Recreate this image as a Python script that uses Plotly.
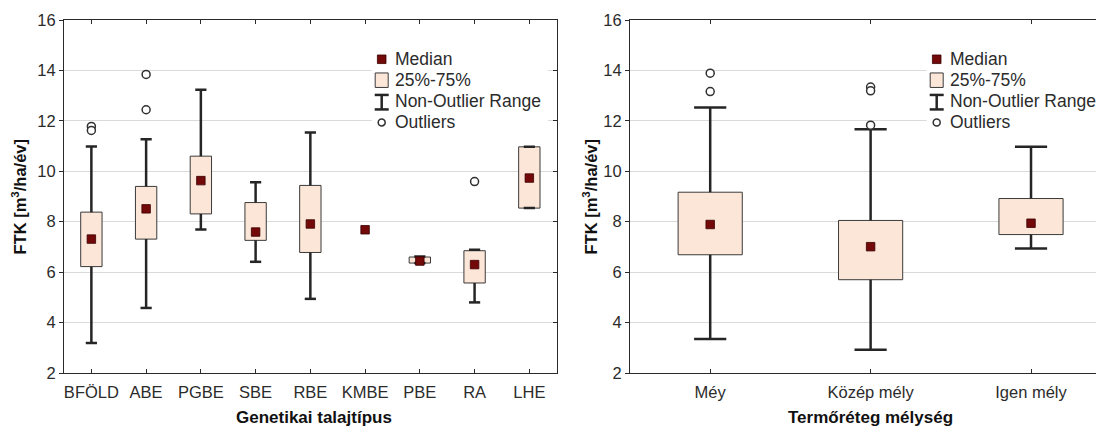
import plotly.graph_objects as go

# ---------------- data ----------------
left_categories = ["BFÖLD", "ABE", "PGBE", "SBE", "RBE", "KMBE", "PBE", "RA", "LHE"]
left_median = [7.31, 8.51, 9.63, 7.59, 7.91, 7.68, 6.44, 6.30, 9.73]
left_q1 = [6.22, 7.31, 8.31, 7.26, 6.78, None, 6.36, 5.57, 8.54]
left_q3 = [8.38, 9.40, 10.60, 8.76, 9.44, None, 6.60, 6.85, 10.97]
left_low = [3.19, 4.58, 7.69, 6.41, 4.94, None, 6.36, 4.80, 8.54]
left_high = [10.98, 11.27, 13.23, 9.57, 11.54, None, 6.62, 6.89, 10.97]
left_outlier_cat = ["BFÖLD", "BFÖLD", "ABE", "ABE", "RA"]
left_outlier_val = [11.78, 11.62, 13.84, 12.44, 9.59]

right_categories = ["Méy", "Közép mély", "Igen mély"]
right_median = [7.89, 7.01, 7.94]
right_q1 = [6.69, 5.70, 7.49]
right_q3 = [9.17, 8.05, 8.92]
right_low = [3.35, 2.92, 6.94]
right_high = [12.53, 11.67, 10.97]
right_outlier_cat = ["Méy", "Méy", "Közép mély", "Közép mély", "Közép mély"]
right_outlier_val = [13.89, 13.16, 13.34, 13.19, 11.83]

y_ticks = [2, 4, 6, 8, 10, 12, 14, 16]
legend_labels = ["Median", "25%-75%", "Non-Outlier Range", "Outliers"]

# ---------------- styles ----------------
BOX_FILL = "#fce6d8"
BOX_LINE = "#3a3a3a"
MED_COLOR = "#730909"
WHISK = "#252525"
AX = "#2a2a2a"
GRID = "#dadada"
TXT = "#2b2b2b"
FONT = "Liberation Sans, Arial, sans-serif"

# the page body has an 8px margin: work in page pixels, shift into figure pixels
OFF = 8
W, H = 1104 - OFF, 428 - OFF
PLOT_L, PLOT_R, PLOT_T, PLOT_B = 64, 1104, 20, 373.3   # page pixels
ML, MT = PLOT_L - OFF, PLOT_T - OFF
MR = (1104 - OFF) - (PLOT_R - OFF)
MB = H - (PLOT_B - OFF)
PW, PH = PLOT_R - PLOT_L, PLOT_B - PLOT_T


def px(x):
    return (x - PLOT_L) / PW


def py(y):
    return (PLOT_B - y) / PH


fig = go.Figure()


def add_panel(cats, med, q1, q3, lo, hi, ocat, oval, xa, ya, bw, capsize):
    # boxes
    fig.add_trace(go.Bar(
        x=cats,
        y=[(b - a) if (a is not None and b is not None) else None for a, b in zip(q1, q3)],
        base=q1, width=bw, xaxis=xa, yaxis=ya,
        marker=dict(color=BOX_FILL, line=dict(color=BOX_LINE, width=1)),
        showlegend=False, hoverinfo="skip"))
    # whisker stems
    sx, sy = [], []
    for c, a, b, l, h in zip(cats, q1, q3, lo, hi):
        if a is None:
            continue
        sx += [c, c, None, c, c, None]
        sy += [l, a, None, b, h, None]
    fig.add_trace(go.Scatter(x=sx, y=sy, mode="lines", xaxis=xa, yaxis=ya,
                             line=dict(color=WHISK, width=2.5),
                             showlegend=False, hoverinfo="skip"))
    # caps
    cx, cy = [], []
    for c, l, h in zip(cats, lo, hi):
        if l is None:
            continue
        cx += [c, c]
        cy += [l, h]
    fig.add_trace(go.Scatter(x=cx, y=cy, mode="markers", xaxis=xa, yaxis=ya,
                             marker=dict(symbol="line-ew", size=capsize,
                                         line=dict(color=WHISK, width=2.5)),
                             showlegend=False, hoverinfo="skip"))
    # medians
    fig.add_trace(go.Scatter(x=cats, y=med, mode="markers", xaxis=xa, yaxis=ya,
                             marker=dict(symbol="square", size=8.5, color=MED_COLOR,
                                         line=dict(color="#3a0000", width=0.8)),
                             showlegend=False, hoverinfo="skip"))
    # outliers
    fig.add_trace(go.Scatter(x=ocat, y=oval, mode="markers", xaxis=xa, yaxis=ya,
                             marker=dict(symbol="circle", size=8, color="white",
                                         line=dict(color="#303030", width=1.5)),
                             showlegend=False, hoverinfo="skip"))


add_panel(left_categories, left_median, left_q1, left_q3, left_low, left_high,
          left_outlier_cat, left_outlier_val, "x", "y", 0.39, 8)
add_panel(right_categories, right_median, right_q1, right_q3, right_low, right_high,
          right_outlier_cat, right_outlier_val, "x2", "y2", 0.40, 23)

# invisible trace for right-side inner ticks of left panel
fig.add_trace(go.Scatter(x=[left_categories[0]], y=[None], xaxis="x", yaxis="y3",
                         mode="markers", showlegend=False, hoverinfo="skip"))

xd1 = [0, px(556.7)]
xd2 = [px(630), 1.0]

xcommon = dict(type="category", showline=True, linecolor=AX, linewidth=1.2,
               ticks="inside", ticklen=4, tickcolor=AX, tickwidth=1,
               showgrid=False, zeroline=False,
               tickfont=dict(family=FONT, size=16.5, color=TXT),
               ticklabelstandoff=4)
ycommon = dict(range=[2, 16], tickvals=y_ticks, showline=True, linecolor=AX,
               linewidth=1.2, ticks="outside", ticklen=4, tickcolor=AX,
               showgrid=True, gridcolor=GRID, gridwidth=1, zeroline=False,
               tickfont=dict(family=FONT, size=16.5, color=TXT))

fig.update_layout(
    width=W, height=H, margin=dict(l=ML, r=MR, t=MT, b=MB, pad=0),
    paper_bgcolor="white", plot_bgcolor="white", showlegend=False,
    barmode="overlay",
    xaxis=dict(domain=xd1, range=[-0.5, 8.5], mirror="ticks", anchor="y",
               categoryorder="array", categoryarray=left_categories, **xcommon),
    yaxis=dict(domain=[0, 1], anchor="x", mirror=True, **ycommon),
    yaxis3=dict(range=[2, 16], tickvals=y_ticks, overlaying="y", side="right",
                anchor="x", showticklabels=False, ticks="inside", ticklen=4,
                tickcolor=AX, showgrid=False, showline=False, zeroline=False),
    xaxis2=dict(domain=xd2, range=[-0.5, 2.455], mirror="ticks", anchor="y2",
                categoryorder="array", categoryarray=right_categories, **xcommon),
    yaxis2=dict(domain=[0, 1], anchor="x2", mirror=False, **ycommon),
)

shapes = []
annotations = []

# legends (drawn manually to reproduce the I-beam symbol)
for cx0, bg_right in [(381.7, 548), (936.7, 1104)]:
    shapes.append(dict(type="rect", xref="paper", yref="paper",
                       x0=px(cx0 - 10), x1=px(bg_right), y0=py(132), y1=py(46),
                       fillcolor="white", line=dict(width=0), layer="above"))
    shapes.append(dict(type="rect", xref="paper", yref="paper",
                       x0=px(cx0 - 4.3), x1=px(cx0 + 4.3), y0=py(63.6), y1=py(55),
                       fillcolor=MED_COLOR, line=dict(color="#3a0000", width=0.8),
                       layer="above"))
    shapes.append(dict(type="rect", xref="paper", yref="paper",
                       x0=px(cx0 - 6.5), x1=px(cx0 + 6.5), y0=py(87.5), y1=py(73),
                       fillcolor=BOX_FILL, line=dict(color=BOX_LINE, width=1),
                       layer="above"))
    for seg in [(cx0, 95, cx0, 109.5), (cx0 - 7, 95, cx0 + 7, 95),
                (cx0 - 7, 109.5, cx0 + 7, 109.5)]:
        shapes.append(dict(type="line", xref="paper", yref="paper",
                           x0=px(seg[0]), y0=py(seg[1]), x1=px(seg[2]), y1=py(seg[3]),
                           line=dict(color=WHISK, width=2.5), layer="above"))
    shapes.append(dict(type="circle", xref="paper", yref="paper",
                       x0=px(cx0 - 3.5), x1=px(cx0 + 3.5), y0=py(126), y1=py(119),
                       fillcolor="white", line=dict(color="#303030", width=1.5),
                       layer="above"))
    for lab, yy in zip(legend_labels, [59.3, 80.5, 101.5, 122]):
        annotations.append(dict(text=lab, xref="paper", yref="paper",
                                x=px(cx0 + 11.5), y=py(yy), xanchor="left",
                                yanchor="middle", showarrow=False,
                                font=dict(family=FONT, size=17.5, color=TXT)))

# axis titles
ytitle = "FTK [m<sup>3</sup>/ha/év]"
for xp in [19, 590]:
    annotations.append(dict(text="<b>" + ytitle + "</b>", xref="paper", yref="paper",
                            x=px(xp), y=0.5, xanchor="center", yanchor="middle",
                            textangle=-90, showarrow=False,
                            font=dict(family=FONT, size=16.5, color="#111")))
for txt, xp in [("Genetikai talajtípus", 314), ("Termőréteg mélység", 870)]:
    annotations.append(dict(text="<b>" + txt + "</b>", xref="paper", yref="paper",
                            x=px(xp), y=py(418), xanchor="center", yanchor="middle",
                            showarrow=False,
                            font=dict(family=FONT, size=17, color="#111")))

fig.update_layout(shapes=shapes, annotations=annotations)
fig.write_html("out.html")
